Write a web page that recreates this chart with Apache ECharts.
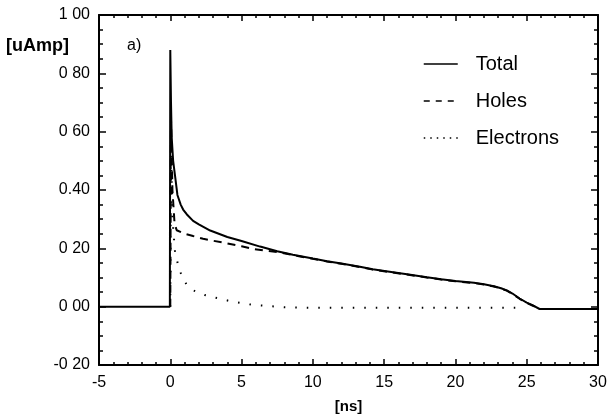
<!DOCTYPE html>
<html>
<head>
<meta charset="utf-8">
<script src="https://cdn.jsdelivr.net/npm/echarts@6/dist/echarts.min.js"></script>
<style>html,body{margin:0;padding:0;background:#fff}#c{width:610px;height:419px}</style>
</head>
<body>
<div id="c"></div>
<script>
// ---- data ----
var xTickLabels = ['-5', '0', '5', '10', '15', '20', '25', '30'];
var yTickLabels = ['-0 20', '0 00', '0 20', '0.40', '0 60', '0 80', '1 00'];
var seriesNames = ['Total', 'Holes', 'Electrons'];

var totalT = [-5, -0.03, 0, 0.05, 0.1, 0.2, 0.33, 0.5, 0.73, 0.9, 1.15, 1.6, 2.0, 2.8, 4.0, 5.0, 6.3, 7.5, 8.6, 10, 11, 12, 13.3, 14.2, 15.5, 16.6, 18, 19, 20, 21.3, 22.0, 22.7, 23.2, 23.6, 24.0, 24.5, 25.0, 25.4, 25.9, 30];
var totalV = [0, 0, 0.88, 0.70, 0.58, 0.50, 0.45, 0.383, 0.35, 0.333, 0.317, 0.294, 0.282, 0.261, 0.239, 0.225, 0.206, 0.19, 0.178, 0.165, 0.156, 0.148, 0.137, 0.128, 0.119, 0.111, 0.101, 0.094, 0.088, 0.082, 0.077, 0.07, 0.063, 0.056, 0.045, 0.028, 0.014, 0.005, -0.008, -0.008];

var holesT = [0, 0.05, 0.15, 0.3, 0.45, 1.0, 1.6, 2.3, 3.0, 4.0, 5.0, 5.8, 6.5, 7.2, 7.6, 8.6, 10, 11, 12, 13.3, 14.2, 15.5, 16.6, 18, 19, 20, 21.3, 22.0, 22.7, 23.2, 23.6, 24.0, 24.5, 25.0, 25.4, 25.9];
var holesV = [0, 0.64, 0.40, 0.285, 0.262, 0.25, 0.242, 0.233, 0.226, 0.217, 0.207, 0.198, 0.193, 0.189, 0.187, 0.177, 0.164, 0.155, 0.147, 0.136, 0.127, 0.118, 0.110, 0.100, 0.093, 0.087, 0.081, 0.076, 0.069, 0.062, 0.055, 0.044, 0.027, 0.013, 0.004, -0.008];

var elecT = [0, 0.05, 0.15, 0.33, 0.56, 0.8, 1.15, 1.6, 2.4, 3.4, 4.2, 5.0, 5.8, 7.0, 8.0, 10, 15, 20, 24.4];
var elecV = [0, 0.55, 0.30, 0.19, 0.14, 0.106, 0.075, 0.056, 0.04, 0.028, 0.019, 0.012, 0.006, 0.002, -0.002, -0.004, -0.004, -0.004, -0.004];

function pairs(t, v) { return t.map(function (x, i) { return [x, v[i]]; }); }

var FONT = 'Liberation Sans';
var chart = echarts.init(document.getElementById('c'), null, { renderer: 'canvas' });

function xAxisCfg(pos, showLabels) {
  return {
    type: 'value', position: pos, min: -5, max: 30, interval: 5,
    axisLine: { show: true, onZero: false, lineStyle: { color: '#000', width: 2 } },
    axisTick: { show: true, inside: true, length: 6, lineStyle: { color: '#000', width: 1.5 } },
    minorTick: { show: true, splitNumber: 5, length: 3, lineStyle: { color: '#000', width: 1.5 } },
    splitLine: { show: false },
    axisLabel: showLabels ? {
      show: true, margin: 10, color: '#000', fontFamily: FONT, fontSize: 16,
      formatter: function (v) { return xTickLabels[Math.round((v + 5) / 5)]; }
    } : { show: false },
    name: showLabels ? '[ns]' : '', nameLocation: 'middle', nameGap: 34,
    nameTextStyle: { color: '#000', fontFamily: FONT, fontSize: 15, fontWeight: 'bold' }
  };
}
function yAxisCfg(pos, showLabels) {
  return {
    type: 'value', position: pos, min: -0.2, max: 1.0, interval: 0.2,
    axisLine: { show: true, onZero: false, lineStyle: { color: '#000', width: 2 } },
    axisTick: { show: true, inside: true, length: 7, lineStyle: { color: '#000', width: 1.5 } },
    minorTick: { show: true, splitNumber: 4, length: 4, lineStyle: { color: '#000', width: 1.5 } },
    splitLine: { show: false },
    axisLabel: showLabels ? {
      show: true, margin: 9, color: '#000', fontFamily: FONT, fontSize: 16,
      formatter: function (v) { return yTickLabels[Math.round((v + 0.2) / 0.2)]; }
    } : { show: false }
  };
}

var hiddenSymbol = { color: 'transparent', borderColor: 'transparent', borderWidth: 0, opacity: 0 };

var option = {
  animation: false,
  backgroundColor: '#fff',
  title: [
    { text: '[uAmp]', left: 6, top: 37, padding: 0, textStyle: { color: '#000', fontFamily: FONT, fontSize: 18, fontWeight: 'bold' } },
    { text: 'a)', left: 127, top: 38, padding: 0, textStyle: { color: '#000', fontFamily: FONT, fontSize: 16, fontWeight: 'normal' } }
  ],
  grid: { left: 99, right: 12, top: 15, bottom: 44, containLabel: false },
  legend: {
    orient: 'vertical', left: 423, top: 54, padding: 0,
    itemWidth: 34, itemHeight: 20, itemGap: 17,
    itemStyle: hiddenSymbol,
    textStyle: { color: '#000', fontFamily: FONT, fontSize: 20, lineHeight: 20, padding: [0, 0, 0, 13] },
    data: [
      { name: seriesNames[0], itemStyle: hiddenSymbol, lineStyle: { color: '#000', type: 'solid', width: 1.5 } },
      { name: seriesNames[1], itemStyle: hiddenSymbol, lineStyle: { color: '#000', type: [6, 6], width: 1.5 } },
      { name: seriesNames[2], itemStyle: hiddenSymbol, lineStyle: { color: '#000', type: [1.5, 5], width: 1.5 } }
    ]
  },
  xAxis: [xAxisCfg('bottom', true), xAxisCfg('top', false)],
  yAxis: [yAxisCfg('left', true), yAxisCfg('right', false)],
  series: [
    {
      name: seriesNames[0], type: 'line', xAxisIndex: 0, yAxisIndex: 0,
      data: pairs(totalT, totalV), symbol: 'none', showSymbol: false,
      lineStyle: { color: '#000', width: 2, type: 'solid' }, itemStyle: { color: '#000' }
    },
    {
      name: seriesNames[1], type: 'line', xAxisIndex: 0, yAxisIndex: 0,
      data: pairs(holesT, holesV), symbol: 'none', showSymbol: false,
      lineStyle: { color: '#000', width: 2, type: [8, 6] }, itemStyle: { color: '#000' }
    },
    {
      name: seriesNames[2], type: 'line', xAxisIndex: 0, yAxisIndex: 0,
      data: pairs(elecT, elecV), symbol: 'none', showSymbol: false,
      lineStyle: { color: '#000', width: 2, type: [1.5, 10] }, itemStyle: { color: '#000' }
    }
  ]
};
chart.setOption(option);
</script>
</body>
</html>
